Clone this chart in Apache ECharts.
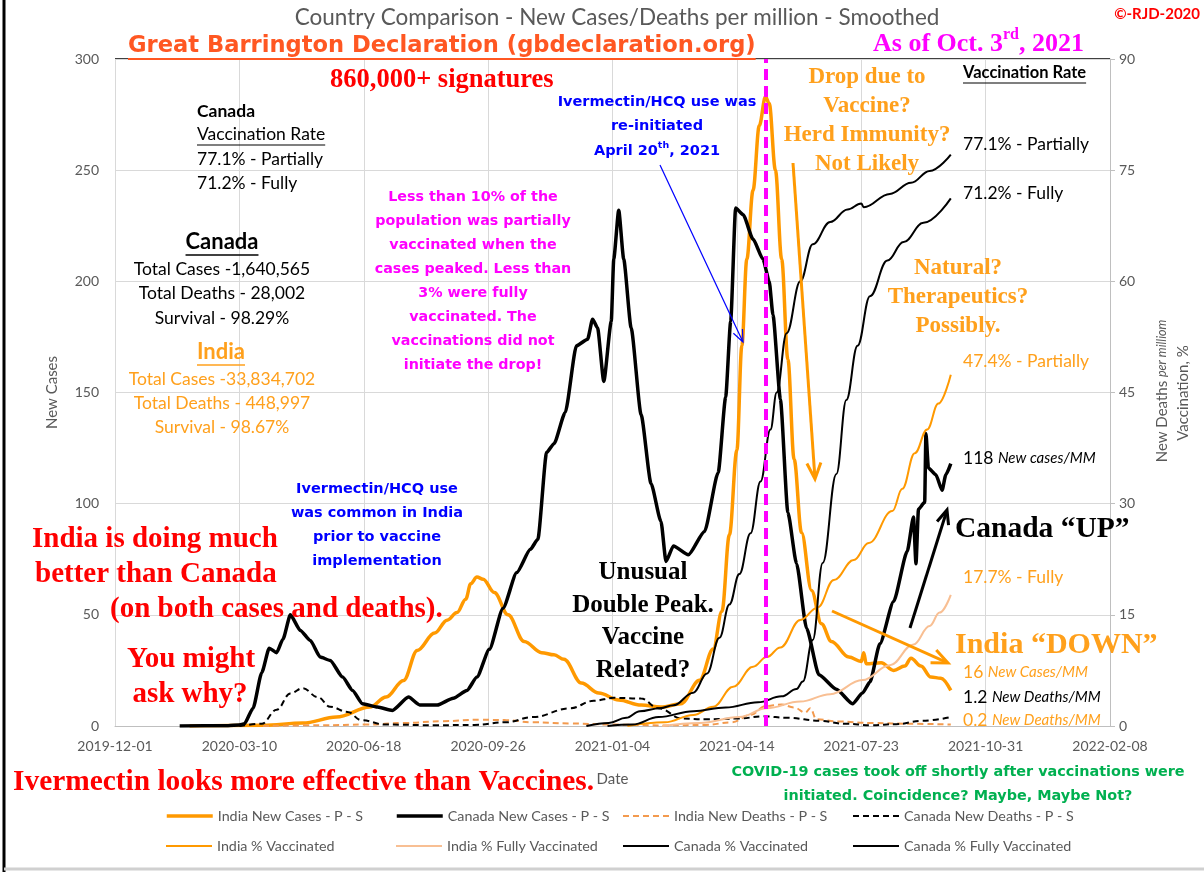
<!DOCTYPE html>
<html lang="en">
<head>
<meta charset="UTF-8">
<title>Country Comparison - New Cases/Deaths per million</title>
<style>html,body{margin:0;padding:0;background:#fff;}</style>
</head>
<body>
<div id="main" style="width: 1204px; height: 872px;"></div>
<script src="https://cdn.jsdelivr.net/npm/echarts@6/dist/echarts.min.js"></script>
<script>
// ---- data ----
var xTickLabels = ['2019-12-01', '2020-03-10', '2020-06-18', '2020-09-26', '2021-01-04',
    '2021-04-14', '2021-07-23', '2021-10-31', '2022-02-08'];
var peakLineDate = '2021-05-07';

var canadaCasesDates = ['2020-01-22','2020-03-01','2020-03-10','2020-03-14','2020-03-21','2020-03-28','2020-04-03','2020-04-09','2020-04-14','2020-04-20','2020-04-28','2020-05-06','2020-05-14','2020-05-22','2020-06-01','2020-06-09','2020-06-17','2020-06-29','2020-07-11','2020-07-24','2020-08-02','2020-08-16','2020-08-29','2020-09-09','2020-09-17','2020-09-27','2020-10-08','2020-10-19','2020-10-30','2020-11-05','2020-11-12','2020-11-18','2020-11-27','2020-12-06','2020-12-15','2020-12-19','2020-12-23','2020-12-28','2021-01-03','2021-01-05','2021-01-09','2021-01-13','2021-01-19','2021-01-27','2021-02-04','2021-02-12','2021-02-16','2021-02-22','2021-03-06','2021-03-19','2021-03-30','2021-04-05','2021-04-09','2021-04-13','2021-04-19','2021-04-27','2021-05-05','2021-05-10','2021-05-13','2021-05-19','2021-05-25','2021-06-01','2021-06-09','2021-06-19','2021-07-03','2021-07-16','2021-07-24','2021-07-30','2021-08-07','2021-08-18','2021-08-29','2021-09-03','2021-09-05','2021-09-07','2021-09-12','2021-09-13','2021-09-15','2021-09-21','2021-09-26','2021-09-29','2021-10-03'];
var canadaCases = [0,0.1,0.5,1,8,24,35,33,39,50,43,38.5,31,29.5,22,16,10,8.5,7,13,9.5,9.4,12.5,16,22,34.5,53,69,79.5,84,123,127,141,171,174,183,179,155,182,210,232,210,179,140,109,92,74,81,77,87.5,114,148,182,233,230,219,210,200,185,147,96,73,44,23,16.5,10,14.8,19.8,37,56,78.6,94,73,97.5,100.6,131.6,116,113,106,113,118];

var indiaCasesDates = ['2020-01-30','2020-03-29','2020-04-30','2020-05-27','2020-06-23','2020-07-06','2020-07-20','2020-07-31','2020-08-14','2020-08-24','2020-09-01','2020-09-08','2020-09-12','2020-09-17','2020-09-22','2020-10-01','2020-10-12','2020-10-25','2020-11-08','2020-11-18','2020-11-26','2020-12-10','2020-12-24','2021-01-09','2021-01-27','2021-02-12','2021-02-28','2021-03-15','2021-03-26','2021-04-02','2021-04-08','2021-04-14','2021-04-18','2021-04-22','2021-04-27','2021-05-02','2021-05-07','2021-05-10','2021-05-15','2021-05-20','2021-05-25','2021-05-30','2021-06-05','2021-06-13','2021-06-21','2021-06-29','2021-07-13','2021-07-23','2021-07-25','2021-07-27','2021-08-08','2021-08-18','2021-08-27','2021-09-01','2021-09-09','2021-09-17','2021-09-25','2021-10-03'];
var indiaCases = [0,0.3,1.3,4,8.5,13,20.5,34,41.8,47.6,51,57,64,67,66,60,50,38,33,32,30,19.3,14.8,11.7,9.4,8.5,10,20.6,34.6,51.6,86,124,171,210,241,270,283,280,250,210,165,120,87,61,46,38,31,29,33,28,28.5,25,27,30.5,27,22,21.5,16];

var indiaDeathsDates = ['2020-03-29','2020-05-15','2020-06-20','2020-07-20','2020-08-20','2020-09-20','2020-10-10','2020-11-01','2020-12-01','2021-01-01','2021-02-15','2021-03-20','2021-04-10','2021-04-25','2021-05-07','2021-05-20','2021-05-30','2021-06-08','2021-06-12','2021-06-17','2021-07-05','2021-08-01','2021-09-01','2021-10-03'];
var indiaDeaths = [0,0.1,0.2,0.4,0.65,0.85,0.8,0.5,0.35,0.2,0.08,0.15,0.5,1.5,2.7,2.9,2.5,1.8,2.4,0.9,0.6,0.4,0.3,0.2];

var canadaDeathsDates = ['2020-03-10','2020-03-28','2020-04-09','2020-04-20','2020-04-30','2020-05-12','2020-05-22','2020-06-05','2020-06-16','2020-07-05','2020-08-15','2020-09-15','2020-10-10','2020-11-01','2020-12-01','2020-12-20','2021-01-05','2021-01-27','2021-02-10','2021-03-01','2021-03-20','2021-04-15','2021-05-05','2021-05-25','2021-06-20','2021-07-10','2021-07-31','2021-08-20','2021-09-10','2021-10-03'];
var canadaDeaths = [0,0.3,2.2,4.4,5.1,3.9,2.6,1.9,0.8,0.2,0.1,0.15,0.5,1.2,2.4,3.4,3.8,3.7,2.4,1.0,0.9,1.0,1.3,1.1,0.7,0.3,0.1,0.25,0.7,1.2];

var indiaVaxDates = ['2021-01-16','2021-02-15','2021-03-10','2021-03-26','2021-04-11','2021-04-27','2021-05-08','2021-05-19','2021-06-04','2021-06-18','2021-07-01','2021-07-17','2021-07-29','2021-08-17','2021-08-25','2021-09-04','2021-09-14','2021-09-23','2021-10-03'];
var indiaVax = [0,0.5,1.5,2.6,5.3,8,9.3,10.6,14.3,16,19.7,22.4,24.7,29,32,36.8,40,43.5,47.4];

var indiaFullDates = ['2021-02-13','2021-03-15','2021-04-16','2021-05-08','2021-06-04','2021-06-28','2021-07-24','2021-08-15','2021-09-03','2021-09-16','2021-09-24','2021-10-03'];
var indiaFull = [0,0.4,1.2,2.4,3.3,4.3,6.2,8.2,11,13.5,15.3,17.7];

var canadaVaxDates = ['2020-12-14','2021-01-01','2021-01-15','2021-01-26','2021-02-11','2021-02-22','2021-03-10','2021-03-21','2021-03-31','2021-04-08','2021-04-16','2021-04-25','2021-05-03','2021-05-11','2021-05-16','2021-05-24','2021-06-04','2021-06-14','2021-06-28','2021-07-12','2021-07-23','2021-07-25','2021-08-15','2021-09-01','2021-09-16','2021-10-03'];
var canadaVax = [0,0.4,1.1,2,2.4,2.8,4.5,7.1,11.9,16.4,20.5,26,33,40,45,53,60,65,68,69.7,70.5,70,71.8,73.3,74.9,77.1];

var canadaFullDates = ['2020-12-31','2021-01-20','2021-02-10','2021-03-10','2021-04-05','2021-05-01','2021-05-20','2021-06-01','2021-06-06','2021-06-14','2021-06-22','2021-07-03','2021-07-11','2021-07-20','2021-07-30','2021-08-13','2021-08-26','2021-09-11','2021-10-03'];
var canadaFull = [0,0.2,1.2,2,2.5,3.2,4,5,6,11.6,22,34,44,51.3,58,62.8,65.3,67.9,71.2];

// ---- helpers ----
var t0 = Date.UTC(2019, 11, 1);
function toDay(s) {
    var p = s.split('-');
    return (Date.UTC(+p[0], +p[1] - 1, +p[2]) - t0) / 86400000;
}
function pairs(dates, vals) {
    return dates.map(function (d, i) { return [toDay(d), vals[i]]; });
}

var ORANGE = '#FF9900', ORANGE_TXT = '#FFA01C', PEACH = '#F8BF93', DEATH_OR = '#F39A4E';
var RED = '#FF0000', MAGENTA = '#FF00FF', BLUE = '#0000FF', GREEN = '#00B050', GREY = '#595959';
var SERIF = '"Liberation Serif", "Times New Roman", serif';
var GOTHIC = '"DejaVu Sans", sans-serif';
var CALI = 'Lato, "Open Sans", sans-serif';

var measure = document.createElement('canvas').getContext('2d');
function textW(text, font) { measure.font = font; return measure.measureText(text).width; }

function T(x, y, text, font, color, align) {
    return { type: 'text', x: x, y: y, silent: true, z: 100,
        style: { text: text, font: font, fill: color, textAlign: align || 'left', textVerticalAlign: 'middle', verticalAlign: 'middle' } };
}
function U(x, y, text, font, color, align, lw) {
    var w = textW(text, font);
    var x0 = align === 'center' ? x - w / 2 : (align === 'right' ? x - w : x);
    return { type: 'line', silent: true, z: 100, shape: { x1: x0, y1: y, x2: x0 + w, y2: y },
        style: { stroke: color, lineWidth: lw || 1.2 } };
}
function R(x, y, text, rich, align) {
    return { type: 'text', x: x, y: y, silent: true, z: 100,
        style: { text: text, rich: rich, textAlign: align || 'left', textVerticalAlign: 'middle', verticalAlign: 'middle' } };
}
function arrow(x1, y1, x2, y2, color, w, hl, hw) {
    var a = Math.atan2(y2 - y1, x2 - x1), c = Math.cos(a), s = Math.sin(a);
    var bx = x2 - hl * c, by = y2 - hl * s;
    return [
        { type: 'line', silent: true, z: 100, shape: { x1: x1, y1: y1, x2: x2 - c * w * 0.5, y2: y2 - s * w * 0.5 },
          style: { stroke: color, lineWidth: w } },
        { type: 'polyline', silent: true, z: 100,
          shape: { points: [[bx + hw * s, by - hw * c], [x2, y2], [bx - hw * s, by + hw * c]] },
          style: { stroke: color, lineWidth: w, fill: null, lineJoin: 'miter' } }
    ];
}

// ---- annotations ----
var g = [];
g.push(T(617, 18, 'Country Comparison - New Cases/Deaths per million - Smoothed', '22.5px ' + CALI, GREY, 'center'));
var gbFont = 'bold 22.6px ' + GOTHIC;
g.push(T(128, 46, 'Great Barrington Declaration (gbdeclaration.org)', gbFont, '#FF5722'));
g.push(U(128, 59, 'Great Barrington Declaration (gbdeclaration.org)', gbFont, '#FF5722', 'left', 2));
g.push(T(1200, 14, '\u00A9-RJD-2020', 'bold 15px ' + CALI, RED, 'right'));
g.push(R(873, 42, '{m|As of Oct. 3}{s|rd}{m|, 2021}', {
    m: { fontFamily: SERIF, fontWeight: 'bold', fontSize: 26, fill: MAGENTA, lineHeight: 30, verticalAlign: 'bottom' },
    s: { fontFamily: SERIF, fontWeight: 'bold', fontSize: 16, fill: MAGENTA, lineHeight: 16, verticalAlign: 'top' }
}));
g.push(T(330, 80, '860,000+ signatures', 'bold 26.5px ' + SERIF, RED));

// left stats block
var cal16 = '17.5px ' + CALI;
g.push(T(197, 111, 'Canada', 'bold 17.5px ' + CALI, '#000'));
g.push(T(197, 134, 'Vaccination Rate', cal16, '#000'));
g.push(U(197, 145, 'Vaccination Rate', cal16, '#000'));
g.push(T(197, 159, '77.1% - Partially', cal16, '#000'));
g.push(T(197, 183, '71.2% - Fully', cal16, '#000'));
g.push(T(222, 242, 'Canada', 'bold 22px ' + CALI, '#000', 'center'));
g.push(U(222, 255, 'Canada', 'bold 22px ' + CALI, '#000', 'center', 1.5));
g.push(T(222, 269, 'Total Cases -1,640,565', cal16, '#000', 'center'));
g.push(T(222, 293, 'Total Deaths - 28,002', cal16, '#000', 'center'));
g.push(T(222, 318, 'Survival - 98.29%', cal16, '#000', 'center'));
g.push(T(221, 352, 'India', 'bold 22px ' + CALI, ORANGE_TXT, 'center'));
g.push(U(221, 365, 'India', 'bold 22px ' + CALI, ORANGE_TXT, 'center', 1.5));
g.push(T(222, 379, 'Total Cases -33,834,702', cal16, ORANGE_TXT, 'center'));
g.push(T(222, 403, 'Total Deaths - 448,997', cal16, ORANGE_TXT, 'center'));
g.push(T(222, 427, 'Survival - 98.67%', cal16, ORANGE_TXT, 'center'));

// magenta block
var magLines = ['Less than 10% of the', 'population was partially', 'vaccinated when the', 'cases peaked. Less than',
    '3% were fully', 'vaccinated. The', 'vaccinations did not', 'initiate the drop!'];
magLines.forEach(function (s, i) { g.push(T(473, 197 + i * 24, s, 'bold 14.3px ' + GOTHIC, MAGENTA, 'center')); });

// blue block top
var blueFont = 'bold 14.5px ' + GOTHIC;
g.push(T(657, 102, 'Ivermectin/HCQ use was', blueFont, BLUE, 'center'));
g.push(T(657, 126, 're-initiated', blueFont, BLUE, 'center'));
g.push(R(657, 150, '{m|April 20}{s|th}{m|, 2021}', {
    m: { fontFamily: GOTHIC, fontWeight: 'bold', fontSize: 14.5, fill: BLUE, lineHeight: 18, verticalAlign: 'bottom' },
    s: { fontFamily: GOTHIC, fontWeight: 'bold', fontSize: 9.5, fill: BLUE, lineHeight: 10, verticalAlign: 'top' }
}, 'center'));
g = g.concat(arrow(660, 165, 743, 342, BLUE, 1.2, 12, 5));

// drop due to vaccine
var orSerif = 'bold 23px ' + SERIF;
['Drop due to', 'Vaccine?', 'Herd Immunity?', 'Not Likely'].forEach(function (s, i) {
    g.push(T(867, 77 + i * 29, s, orSerif, ORANGE_TXT, 'center'));
});
g = g.concat(arrow(793, 163, 815, 479, ORANGE, 3, 16, 7));

// right column
g.push(T(963, 73, 'Vaccination Rate', 'bold 16.5px ' + CALI, '#000'));
g.push(U(963, 83, 'Vaccination Rate', 'bold 16.5px ' + CALI, '#000'));
g.push(T(963, 144, '77.1% - Partially', cal16, '#000'));
g.push(T(963, 193, '71.2% - Fully', cal16, '#000'));
['Natural?', 'Therapeutics?', 'Possibly.'].forEach(function (s, i) {
    g.push(T(958, 268 + i * 29, s, orSerif, ORANGE_TXT, 'center'));
});
g.push(T(963, 361, '47.4% - Partially', cal16, ORANGE_TXT));
function mm(num, label) {
    return '{n|' + num + ' }{i|' + label + '}';
}
function mmRich(color) {
    return {
        n: { fontFamily: CALI, fontSize: 17.5, fill: color },
        i: { fontFamily: CALI, fontSize: 15, fontStyle: 'italic', fill: color }
    };
}
g.push(R(963, 458, mm('118', 'New cases/MM'), mmRich('#000')));
g.push(T(955, 529, 'Canada \u201CUP\u201D', 'bold 29.5px ' + SERIF, '#000'));
g = g.concat(arrow(910, 628, 947, 510, '#000', 3, 14, 6));
g.push(T(963, 577, '17.7% - Fully', cal16, ORANGE_TXT));
g.push(T(955, 645, 'India \u201CDOWN\u201D', 'bold 30px ' + SERIF, ORANGE_TXT));
g = g.concat(arrow(832, 611, 948, 663, ORANGE, 3, 16, 7));
g.push(R(963, 672, mm('16', 'New Cases/MM'), mmRich(ORANGE_TXT)));
g.push(R(963, 697, mm('1.2', 'New Deaths/MM'), mmRich('#000')));
g.push(R(963, 720, mm('0.2', 'New Deaths/MM'), mmRich(ORANGE_TXT)));

// lower left
['Ivermectin/HCQ use', 'was common in India', 'prior to vaccine', 'implementation'].forEach(function (s, i) {
    g.push(T(377, 489 + i * 24, s, blueFont, BLUE, 'center'));
});
var redSerif = 'bold 29px ' + SERIF;
g.push(T(32, 540, 'India is doing much', redSerif, RED));
g.push(T(35, 575, 'better than Canada', redSerif, RED));
g.push(T(110, 610, '(on both cases and deaths).', redSerif, RED));
g.push(T(191, 660, 'You might', redSerif, RED, 'center'));
g.push(T(190, 695, 'ask why?', redSerif, RED, 'center'));
['Unusual', 'Double Peak.', 'Vaccine', 'Related?'].forEach(function (s, i) {
    g.push(T(643, 573 + i * 32.5, s, 'bold 25px ' + SERIF, '#000', 'center'));
});

// bottom
g.push(T(13, 782, 'Ivermectin looks more effective than Vaccines.', 'bold 29.4px ' + SERIF, RED));
g.push(T(958, 772, 'COVID-19 cases took off shortly after vaccinations were', 'bold 14.4px ' + GOTHIC, GREEN, 'center'));
g.push(T(958, 796, 'initiated. Coincidence? Maybe, Maybe Not?', 'bold 14.4px ' + GOTHIC, GREEN, 'center'));

// right axis name (rotated)
g.push({ type: 'text', x: 1162, y: 391, rotation: Math.PI / 2, silent: true,
    style: { text: '{a|New Deaths }{b|per milliom}', textAlign: 'center', textVerticalAlign: 'middle', verticalAlign: 'middle',
        rich: { a: { fontFamily: CALI, fontSize: 15, fill: GREY }, b: { fontFamily: CALI, fontSize: 12.5, fontStyle: 'italic', fill: GREY } } } });
g.push({ type: 'text', x: 1183, y: 393, rotation: Math.PI / 2, silent: true,
    style: { text: 'Vaccination, %', font: '15px ' + CALI, fill: GREY, textAlign: 'center', textVerticalAlign: 'middle', verticalAlign: 'middle' } });

// frame
g.push({ type: 'line', silent: true, shape: { x1: 115, y1: 59, x2: 1110, y2: 59 }, style: { stroke: '#000', lineWidth: 1.5 } });
g.push({ type: 'line', silent: true, shape: { x1: 4, y1: 0, x2: 4, y2: 872 }, style: { stroke: '#000', lineWidth: 3 } });
g.push({ type: 'line', silent: true, shape: { x1: 4, y1: 869, x2: 1204, y2: 869 }, style: { stroke: '#d0d0d0', lineWidth: 3 } });

// ---- series ----
function lineSeries(name, data, color, width, axis, dashed, smooth) {
    return {
        name: name, type: 'line', yAxisIndex: axis, data: data, symbol: 'none', showSymbol: false,
        smooth: smooth || false, smoothMonotone: smooth ? 'x' : undefined,
        lineStyle: { color: color, width: width, type: dashed ? [6, 4] : 'solid' },
        itemStyle: { color: color }
    };
}
var series = [
    lineSeries('India New Cases - P - S', pairs(indiaCasesDates, indiaCases), ORANGE, 3.5, 0, false, 0.35),
    lineSeries('Canada New Cases - P - S', pairs(canadaCasesDates, canadaCases), '#000', 3.5, 0, false, 0.2),
    lineSeries('India New Deaths - P - S', pairs(indiaDeathsDates, indiaDeaths), DEATH_OR, 2, 1, true, 0.4),
    lineSeries('Canada New Deaths - P - S', pairs(canadaDeathsDates, canadaDeaths), '#000', 2, 1, true, 0.4),
    lineSeries('India % Vaccinated', pairs(indiaVaxDates, indiaVax), ORANGE, 2, 1, false, 0.4),
    lineSeries('India % Fully Vaccinated', pairs(indiaFullDates, indiaFull), PEACH, 2, 1, false, 0.4),
    lineSeries('Canada % Vaccinated', pairs(canadaVaxDates, canadaVax), '#000', 2, 1, false, 0.4),
    lineSeries('Canada % Fully Vaccinated', pairs(canadaFullDates, canadaFull), '#000', 2, 1, false, 0.4)
];
series[0].markLine = {
    silent: true, symbol: 'none', label: { show: false },
    lineStyle: { color: MAGENTA, width: 4, type: [11, 6] },
    data: [{ xAxis: toDay(peakLineDate) }]
};

// legends, one per entry laid out in two rows of four
var legendLefts = [165, 395, 622, 852];
var legends = series.map(function (s, i) {
    return {
        data: [s.name], left: legendLefts[i % 4], top: i < 4 ? 809 : 839, padding: 0,
        itemWidth: 46, itemHeight: 14, selectedMode: false,
        itemStyle: { opacity: 0 },
        lineStyle: { width: s.lineStyle.width, color: s.lineStyle.color, type: s.lineStyle.type },
        textStyle: { color: GREY, fontSize: 14.3, fontFamily: CALI }
    };
});

var chart = echarts.init(document.getElementById('main'));
chart.setOption({
    animation: false,
    grid: { left: 115, right: 94, top: 59, bottom: 146 },
    legend: legends,
    xAxis: {
        type: 'value', min: 0, max: 800, interval: 100,
        name: 'Date', nameLocation: 'middle', nameGap: 46,
        nameTextStyle: { color: GREY, fontSize: 15, fontFamily: CALI },
        axisLine: { lineStyle: { color: '#bfbfbf' } },
        axisTick: { show: false },
        splitLine: { show: true, lineStyle: { color: '#d9d9d9' } },
        axisLabel: { color: GREY, fontSize: 14, fontFamily: CALI, margin: 13,
            formatter: function (v) { return xTickLabels[Math.round(v / 100)]; } }
    },
    yAxis: [{
        type: 'value', min: 0, max: 300, interval: 50,
        name: 'New Cases', nameLocation: 'middle', nameGap: 55, nameRotate: 90,
        nameTextStyle: { color: GREY, fontSize: 15, fontFamily: CALI },
        axisLine: { show: false }, axisTick: { show: false },
        splitLine: { lineStyle: { color: '#d9d9d9' } },
        axisLabel: { color: GREY, fontSize: 14, fontFamily: CALI, margin: 16 }
    }, {
        type: 'value', min: 0, max: 90, interval: 15, position: 'right',
        axisLine: { show: true, lineStyle: { color: '#bfbfbf' } },
        axisTick: { show: true, length: 5, lineStyle: { color: '#bfbfbf' } },
        splitLine: { show: false },
        axisLabel: { color: GREY, fontSize: 14, fontFamily: CALI, margin: 9 }
    }],
    series: series,
    graphic: { elements: g }
});
</script>
</body>
</html>
